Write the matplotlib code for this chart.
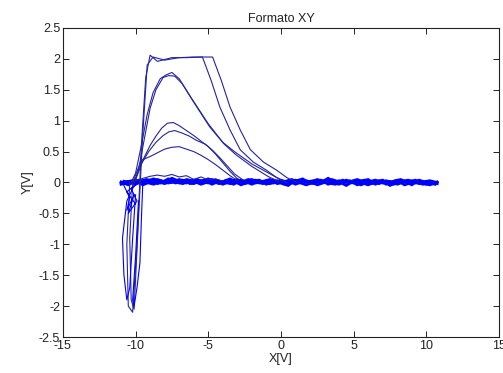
import matplotlib
matplotlib.use('Agg')
import matplotlib.pyplot as plt
from matplotlib.ticker import FuncFormatter

plt.rcParams['font.family'] = ['Liberation Sans', 'DejaVu Sans']
plt.rcParams['axes.unicode_minus'] = False

# --- data ---
# noisy baseline traces (two sampling grids)
x_base_a = [-11.0, -10.5, -10.0, -9.5, -9.0, -8.5, -8.0, -7.5, -7.0, -6.5, -6.0,
            -5.5, -5.0, -4.5, -4.0, -3.5, -3.0, -2.5, -2.0, -1.5, -1.0, -0.5,
            0.0, 0.5, 1.0, 1.5, 2.0, 2.5, 3.0, 3.5, 4.0, 4.5, 5.0,
            5.5, 6.0, 6.5, 7.0, 7.5, 8.0, 8.5, 9.0, 9.5, 10.0, 10.6]
x_base_b = [-10.8, -10.25, -9.75, -9.25, -8.75, -8.25, -7.75, -7.25, -6.75, -6.25, -5.75,
            -5.25, -4.75, -4.25, -3.75, -3.25, -2.75, -2.25, -1.75, -1.25, -0.75, -0.25,
            0.25, 0.75, 1.25, 1.75, 2.25, 2.75, 3.25, 3.75, 4.25, 4.75, 5.25,
            5.75, 6.25, 6.75, 7.25, 7.75, 8.25, 8.75, 9.25, 9.75, 10.25, 10.75]

base_a1 = [-0.01, 0.02, -0.03, 0.03, 0.00, 0.05, 0.01, 0.07, 0.02, -0.01, 0.04,
           0.01, 0.06, 0.00, 0.02, -0.02, 0.03, 0.01, 0.05, -0.01, 0.02, 0.04,
           0.00, 0.03, -0.03, 0.02, 0.00, 0.05, 0.01, -0.01, 0.03, 0.00, 0.02,
           -0.04, 0.01, 0.04, -0.01, 0.02, -0.03, 0.01, 0.03, -0.02, 0.01, -0.01]
base_a2 = [0.01, -0.04, 0.03, -0.01, 0.04, -0.02, 0.02, 0.00, 0.05, 0.01, -0.02,
           0.03, -0.01, 0.04, 0.01, 0.06, -0.01, 0.02, -0.03, 0.03, 0.00, -0.01,
           0.04, 0.00, 0.02, 0.06, -0.02, 0.01, 0.03, 0.00, -0.03, 0.04, -0.01,
           0.02, 0.05, -0.03, 0.03, 0.00, 0.04, -0.04, 0.00, 0.02, -0.03, 0.00]
base_a3 = [-0.03, 0.00, 0.04, -0.04, 0.01, 0.02, -0.02, 0.03, -0.01, 0.05, 0.02,
           -0.03, 0.01, 0.03, -0.03, 0.02, 0.05, -0.02, 0.01, 0.04, -0.03, 0.02,
           -0.01, -0.05, 0.04, -0.01, 0.02, -0.04, 0.00, 0.05, 0.01, -0.05, 0.03,
           0.00, -0.04, 0.01, 0.04, -0.05, 0.01, 0.03, -0.04, 0.04, 0.00, -0.03]
base_b1 = [0.00, 0.03, -0.01, 0.02, 0.06, 0.01, 0.04, -0.01, 0.03, 0.01, 0.05,
           0.00, 0.02, -0.02, 0.04, 0.01, 0.00, 0.05, 0.02, -0.02, 0.03, 0.01,
           0.02, -0.01, 0.04, 0.01, 0.03, 0.00, 0.07, -0.01, 0.02, 0.01, 0.05,
           0.00, 0.02, -0.02, 0.03, -0.01, 0.01, 0.04, -0.01, 0.01, 0.03, 0.00]
base_b2 = [-0.02, 0.01, 0.04, 0.00, -0.03, 0.03, -0.01, 0.02, 0.04, -0.02, 0.01,
           0.04, -0.03, 0.02, -0.01, 0.03, -0.04, 0.01, 0.04, 0.00, -0.02, 0.03,
           -0.03, 0.02, 0.00, -0.04, 0.01, 0.04, -0.03, 0.02, -0.01, 0.03, -0.04,
           0.01, -0.01, 0.03, -0.03, 0.02, 0.05, -0.02, 0.02, -0.03, -0.01, -0.02]
base_b3 = [0.02, -0.01, 0.01, 0.05, 0.02, -0.01, 0.06, 0.01, -0.02, 0.03, 0.00,
           0.02, 0.05, -0.01, 0.01, -0.03, 0.04, 0.00, -0.01, 0.02, 0.05, -0.02,
           0.01, 0.05, -0.01, 0.03, -0.02, 0.02, -0.01, -0.03, 0.04, -0.01, 0.01,
           0.04, -0.02, 0.02, 0.00, -0.03, 0.02, 0.00, 0.04, -0.01, -0.04, 0.01]

# low bumps just above the baseline
low_x = [-10.3, -9.6, -9.0, -8.5, -8.0, -7.5, -7.0, -6.5, -6.0, -5.5, -5.0, -4.5, -4.0]
low_y = [0.0, 0.06, 0.10, 0.12, 0.10, 0.13, 0.09, 0.11, 0.05, 0.09, 0.04, 0.06, 0.02]

# big loops (with negative dip before the jump)
loop1a_x = [-10.4, -10.6, -10.5, -10.2, -9.9, -9.6, -9.3, -9.0, -8.5, -7.5, -6.5, -5.4,
            -4.8, -4.2, -3.5, -2.8, -1.9, -1.0, -0.3, 0.4]
loop1a_y = [0.0, -1.0, -2.0, -2.1, -1.0, 0.6, 1.7, 2.06, 1.96, 2.02, 2.02, 2.03,
            1.65, 1.22, 0.85, 0.53, 0.33, 0.2, 0.08, 0.0]
loop1b_x = [-10.2, -10.4, -10.3, -10.1, -9.8, -9.5, -9.2, -8.8, -8.0, -7.0, -6.0, -4.7,
            -4.1, -3.5, -2.8, -2.1, -1.2, -0.3, 0.4, 1.1]
loop1b_y = [0.0, -0.9, -1.9, -2.05, -0.6, 0.8, 1.9, 2.03, 1.98, 2.02, 2.03, 2.03,
            1.65, 1.22, 0.85, 0.53, 0.33, 0.2, 0.08, 0.0]

loop2a_x = [-10.3, -10.0, -9.6, -9.2, -8.8, -8.3, -7.9, -7.5, -7.0, -6.2, -5.0, -4.0,
            -3.2, -2.0, -0.6, 0.2]
loop2a_y = [0.0, 0.15, 0.6, 1.1, 1.45, 1.68, 1.74, 1.78, 1.68, 1.38, 0.95, 0.65,
            0.50, 0.30, 0.12, 0.02]
loop2b_x = [-10.1, -9.8, -9.4, -9.0, -8.6, -8.1, -7.7, -7.3, -6.8, -6.0, -4.9, -3.9,
            -3.1, -2.0, -0.9, -0.2]
loop2b_y = [0.0, 0.2, 0.7, 1.2, 1.5, 1.7, 1.73, 1.72, 1.6, 1.3, 0.9, 0.62,
            0.45, 0.26, 0.10, 0.02]

loop3_x = [-10.0, -9.5, -9.0, -8.6, -8.2, -7.8, -7.4, -7.0, -6.5, -6.0, -5.5, -5.0,
           -4.5, -4.0, -3.5, -3.0]
loop3_y = [0.05, 0.36, 0.6, 0.75, 0.88, 0.96, 0.97, 0.92, 0.84, 0.76, 0.67, 0.58,
           0.46, 0.32, 0.18, 0.06]
loop4_x = [-10.0, -9.6, -9.1, -8.6, -8.1, -7.7, -7.3, -6.8, -6.3, -5.8, -5.2, -4.7,
           -4.2, -3.7, -3.2, -2.6]
loop4_y = [0.05, 0.3, 0.5, 0.65, 0.76, 0.82, 0.84, 0.80, 0.75, 0.68, 0.62, 0.52,
           0.40, 0.27, 0.14, 0.04]
loop5_x = [-10.2, -9.6, -9.0, -8.5, -8.0, -7.5, -7.0, -6.5, -6.0, -5.5, -5.0, -4.5,
           -4.0, -3.5, -3.0]
loop5_y = [0.0, 0.36, 0.42, 0.48, 0.54, 0.57, 0.58, 0.54, 0.50, 0.44, 0.37, 0.29,
           0.20, 0.11, 0.03]

# negative spikes and tangle near x = -10
spike1_x = [-10.0, -10.6, -10.9, -10.8, -10.6, -10.4, -10.2, -10.0]
spike1_y = [0.0, -0.3, -0.9, -1.5, -1.9, -1.7, -0.9, -0.2]
spike2_x = [-9.5, -9.6, -9.7, -9.9, -10.1, -10.2, -10.0, -9.8]
spike2_y = [0.0, -0.6, -1.3, -1.7, -2.0, -1.9, -1.2, -0.3]
tangle_x = [-10.8, -10.4, -10.6, -10.1, -10.5, -9.9, -10.3, -9.8, -10.6, -10.0]
tangle_y = [-0.05, -0.25, -0.45, -0.2, -0.5, -0.3, -0.1, 0.0, -0.15, -0.35]

xticks = [-15, -10, -5, 0, 5, 10, 15]
yticks = [-2.5, -2, -1.5, -1, -0.5, 0, 0.5, 1, 1.5, 2, 2.5]

# --- plot ---
fig = plt.figure(figsize=(5.03, 3.73), dpi=100)
ax = fig.add_axes([0.125, 0.0965, 0.867, 0.8285])

blue = '#0000ff'
line_blue = '#2424a0'

for xs, ys in [(x_base_a, base_a1), (x_base_a, base_a2), (x_base_a, base_a3),
               (x_base_b, base_b1), (x_base_b, base_b2), (x_base_b, base_b3)]:
    ax.plot(xs, ys, color=blue, lw=1.9)

for xs, ys in [(low_x, low_y), (loop1a_x, loop1a_y), (loop1b_x, loop1b_y),
               (loop2a_x, loop2a_y), (loop2b_x, loop2b_y), (loop3_x, loop3_y),
               (loop4_x, loop4_y), (loop5_x, loop5_y)]:
    ax.plot(xs, ys, color=line_blue, lw=0.8)

for xs, ys in [(spike1_x, spike1_y), (spike2_x, spike2_y), (tangle_x, tangle_y)]:
    ax.plot(xs, ys, color=blue, lw=0.8)

ax.set_xlim(-15, 15)
ax.set_ylim(-2.5, 2.5)
ax.set_xticks(xticks)
ax.set_yticks(yticks)
fmt = FuncFormatter(lambda v, p: '%g' % v)
ax.xaxis.set_major_formatter(fmt)
ax.yaxis.set_major_formatter(fmt)
ax.tick_params(direction='in', top=True, right=True, length=4, width=0.7,
               labelsize=9, colors='#222222', pad=2)
for s in ax.spines.values():
    s.set_linewidth(0.8)
    s.set_color('#222222')

ax.set_title('Formato XY', fontsize=9, color='#222222', pad=4)
ax.set_xlabel('X[V]', fontsize=9, color='#222222', labelpad=1)
ax.set_ylabel('Y[V]', fontsize=9, color='#222222', labelpad=4)

fig.savefig('out.png', dpi=100)
